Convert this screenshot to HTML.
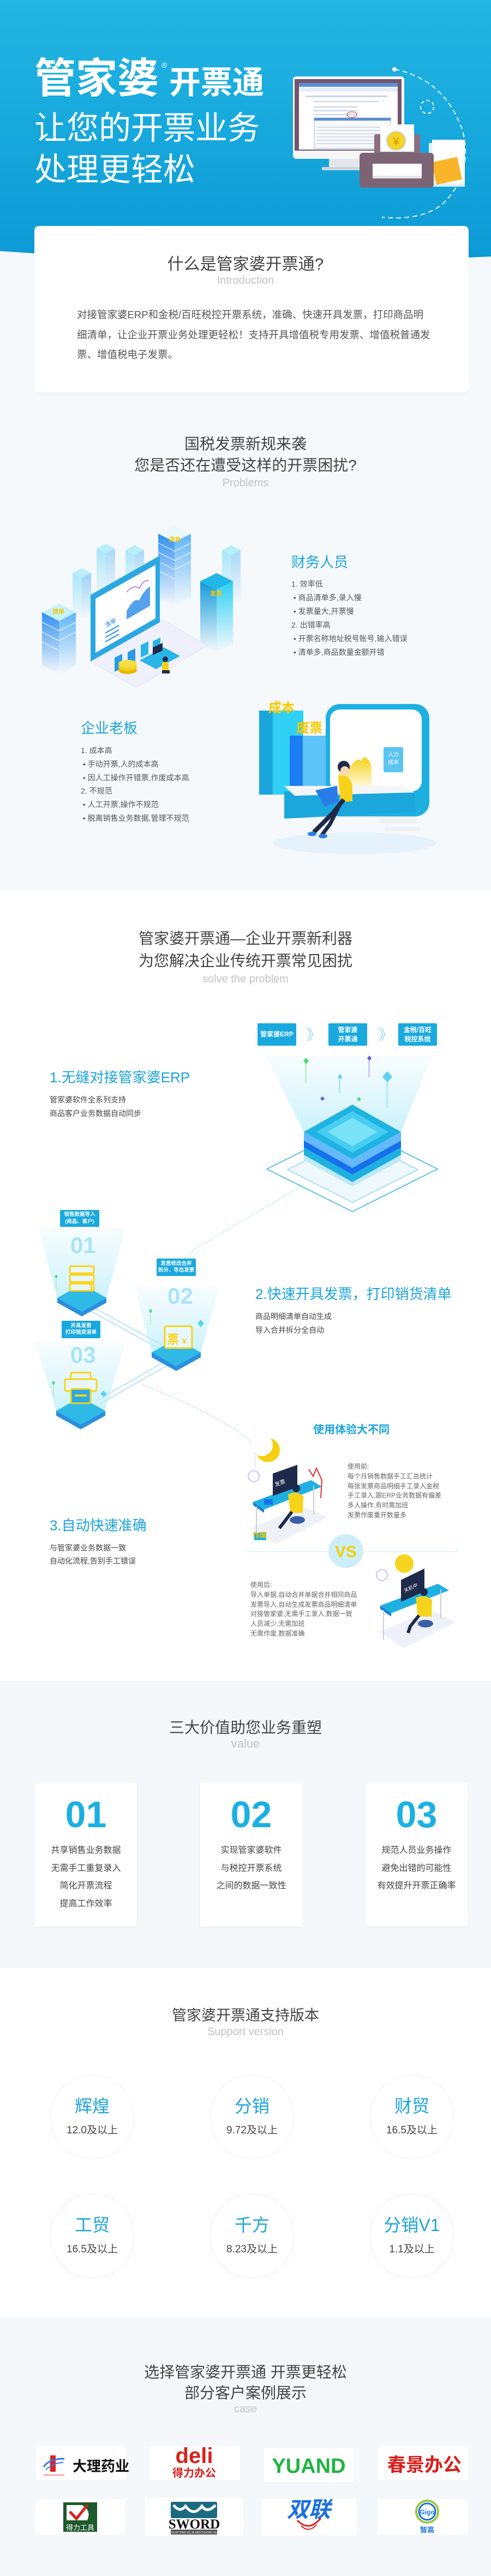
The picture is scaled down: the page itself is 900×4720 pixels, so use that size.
<!DOCTYPE html>
<html><head><meta charset="utf-8">
<style>
*{margin:0;padding:0;box-sizing:border-box}
body{width:900px;height:4720px;overflow:hidden;background:#fff;font-family:"Liberation Sans","Noto Sans CJK SC",sans-serif}
#p{position:relative;width:900px;height:4720px;overflow:hidden}
.a{position:absolute}
.t{position:absolute;white-space:nowrap;line-height:1}
.c{left:0;width:900px;text-align:center}
.h{font-size:28px;color:#444}
.en{font-size:20px;color:#c2c2c2}
.blue{color:#1ba3dc}
.box{position:absolute;background:#1aa9df;color:#fff;font-weight:bold;display:flex;align-items:center;justify-content:center;text-align:center;line-height:1.35;border-radius:2px}
.card{position:absolute;background:#fff;box-shadow:0 1px 4px rgba(0,0,0,.05)}
.circ{position:absolute;width:154px;height:154px;border-radius:50%;background:#fff;border:1px solid #f1f1f1;box-shadow:0 0 6px rgba(0,0,0,.03)}
.logo{position:absolute;background:#fff}
</style></head><body><div id="p">
<!-- backgrounds -->
<div class="a" style="left:0;top:440px;width:900px;height:1191px;background:#f5f9fc"></div>
<div class="a" style="left:0;top:3080px;width:900px;height:526px;background:#f4f8fb"></div>
<div class="a" style="left:0;top:4246px;width:900px;height:474px;background:#f4f8fb"></div>

<svg class="a" style="left:0;top:0" width="900" height="4720" viewBox="0 0 900 4720">
<defs>
<linearGradient id="hg" x1="0" y1="0" x2="0" y2="1"><stop offset="0" stop-color="#22b6e2"/><stop offset="1" stop-color="#0c9ad6"/></linearGradient>
<linearGradient id="fadeB" x1="0" y1="0" x2="0" y2="1"><stop offset="0" stop-color="#2f8ff0"/><stop offset="1" stop-color="#2f8ff0" stop-opacity="0"/></linearGradient>
<linearGradient id="fadeB2" x1="0" y1="0" x2="0" y2="1"><stop offset="0" stop-color="#5fb5f7"/><stop offset="1" stop-color="#5fb5f7" stop-opacity="0"/></linearGradient>
<linearGradient id="fadeC" x1="0" y1="0" x2="0" y2="1"><stop offset="0" stop-color="#2fd0f5"/><stop offset="1" stop-color="#2fd0f5" stop-opacity="0"/></linearGradient>
<linearGradient id="fadeC2" x1="0" y1="0" x2="0" y2="1"><stop offset="0" stop-color="#129ad6"/><stop offset="1" stop-color="#129ad6" stop-opacity="0"/></linearGradient>
<linearGradient id="fadeL" x1="0" y1="0" x2="0" y2="1"><stop offset="0" stop-color="#a8e6f8"/><stop offset="1" stop-color="#a8e6f8" stop-opacity="0"/></linearGradient>
<linearGradient id="beam" x1="0" y1="0" x2="0" y2="1"><stop offset="0" stop-color="#c9f0fb" stop-opacity="0.15"/><stop offset="1" stop-color="#bdeefa" stop-opacity="0.8"/></linearGradient>
<linearGradient id="yel" x1="0" y1="0" x2="0" y2="1"><stop offset="0" stop-color="#f6d21a"/><stop offset="1" stop-color="#f6d21a" stop-opacity="0.1"/></linearGradient>
</defs>

<!-- HEADER -->
<path d="M0 0H900V470Q450 492 0 460Z" fill="url(#hg)"/>
<path d="M723 127 Q815 145 848 240 Q868 320 810 375 Q770 405 700 398" fill="none" stroke="#fff" stroke-width="2" stroke-dasharray="9 6" opacity=".9"/>
<circle cx="723" cy="127" r="4" fill="#fff"/>
<circle cx="783" cy="196" r="12" fill="none" stroke="#fff" stroke-width="2" stroke-dasharray="6 5"/>
<rect x="603" y="290" width="57" height="20" fill="#e3e6ea"/>
<rect x="590" y="306" width="84" height="6" rx="2" fill="#cfd4da"/>
<rect x="537" y="140" width="204" height="151" rx="6" fill="#f4f6f8"/>
<rect x="540" y="145" width="196" height="131" fill="#74566a"/>
<rect x="548" y="152" width="181" height="122" fill="#fff"/>
<rect x="548" y="152" width="181" height="7" fill="#5b8fd6"/>
<rect x="548" y="160" width="181" height="8" fill="#e8edf5"/>
<g fill="#c8d3e6"><rect x="560" y="175" width="150" height="3"/><rect x="575" y="185" width="120" height="2"/><rect x="575" y="195" width="80" height="2"/><rect x="575" y="202" width="80" height="2"/><rect x="575" y="209" width="80" height="2"/></g>
<rect x="576" y="216" width="140" height="56" fill="#f7f9fc" stroke="#9cb3d8"/>
<rect x="576" y="216" width="140" height="5" fill="#5b8fd6"/>
<g fill="#d4dbe8"><rect x="580" y="232" width="130" height="2"/><rect x="580" y="238" width="130" height="2"/><rect x="580" y="244" width="130" height="2"/><rect x="580" y="250" width="130" height="2"/><rect x="580" y="256" width="130" height="2"/><rect x="580" y="262" width="130" height="2"/></g>
<ellipse cx="645" cy="210" rx="9" ry="5" fill="none" stroke="#d33"/>
<rect x="786" y="262" width="66" height="80" fill="#fff" opacity=".85"/>
<rect x="792" y="256" width="60" height="80" fill="#fff"/>
<rect x="795" y="292" width="48" height="42" fill="#f8b52a" transform="rotate(-12 819 313)"/>
<rect x="686" y="246" width="84" height="38" rx="3" fill="#8b7080"/>
<rect x="697" y="228" width="62" height="50" fill="#fff"/>
<circle cx="726" cy="258" r="17" fill="#f5d327" stroke="#cfcfcf" stroke-width="2"/>
<text x="726" y="266" font-size="20" fill="#c99a00" text-anchor="middle" font-family="Liberation Sans">¥</text>
<rect x="659" y="280" width="136" height="64" rx="6" fill="#7d6475"/>
<rect x="683" y="300" width="90" height="27" fill="#fff"/>
<rect x="683" y="322" width="90" height="5" fill="#e4e4e4"/>

<!-- PROBLEM LEFT ILLUSTRATION -->
<g>
<polygon points="150,1041 167,1050 150,1059 133,1050" fill="#b8effa"/><polygon points="133,1050 150,1059 150,1135 133,1126" fill="url(#fadeL)"/><polygon points="150,1059 167,1050 167,1126 150,1135" fill="url(#fadeB2)" opacity=".6"/>
<polygon points="194,996 211,1005 194,1014 177,1005" fill="#b8effa"/><polygon points="177,1005 194,1014 194,1100 177,1091" fill="url(#fadeL)"/><polygon points="194,1014 211,1005 211,1091 194,1100" fill="url(#fadeB2)" opacity=".5"/>
<polygon points="247,999 264,1008 247,1017 230,1008" fill="#b8effa"/><polygon points="230,1008 247,1017 247,1090 230,1081" fill="url(#fadeL)"/><polygon points="247,1017 264,1008 264,1081 247,1090" fill="url(#fadeB2)" opacity=".5"/>
<polygon points="424,999 441,1008 424,1017 407,1008" fill="#b8effa"/><polygon points="407,1008 424,1017 424,1110 407,1101" fill="url(#fadeL)"/><polygon points="424,1017 441,1008 441,1101 424,1110" fill="url(#fadeB2)" opacity=".5"/>
<polygon points="108,1106 139,1122 108,1138 77,1122" fill="#c6f1fb"/><polygon points="77,1122 108,1138 108,1235 77,1219" fill="url(#fadeB)"/><polygon points="108,1138 139,1122 139,1219 108,1235" fill="url(#fadeB2)"/>
<g stroke="#fff" stroke-width="1.5" opacity=".7"><line x1="77" y1="1140" x2="108" y2="1156"/><line x1="77" y1="1158" x2="108" y2="1174"/><line x1="77" y1="1176" x2="108" y2="1192"/><line x1="108" y1="1156" x2="139" y2="1140"/><line x1="108" y1="1174" x2="139" y2="1158"/></g>
<polygon points="320,963 350,978 320,993 290,978" fill="#eaf8ff"/><polygon points="290,978 320,993 320,1110 290,1095" fill="url(#fadeB)"/><polygon points="320,993 350,978 350,1095 320,1110" fill="url(#fadeB2)"/>
<g stroke="#fff" stroke-width="1.5" opacity=".7"><line x1="290" y1="995" x2="320" y2="1010"/><line x1="290" y1="1012" x2="320" y2="1027"/><line x1="290" y1="1029" x2="320" y2="1044"/><line x1="290" y1="1046" x2="320" y2="1061"/><line x1="320" y1="1010" x2="350" y2="995"/><line x1="320" y1="1027" x2="350" y2="1012"/><line x1="320" y1="1044" x2="350" y2="1029"/></g>
<polygon points="397,1050 427,1065 397,1080 367,1065" fill="#22b7e6"/><polygon points="367,1065 397,1080 397,1195 367,1180" fill="url(#fadeC2)"/><polygon points="397,1080 427,1065 427,1180 397,1195" fill="url(#fadeC)"/>
<polygon points="166,1212 300,1136 380,1183 250,1260" fill="#eef1fb" stroke="#dfe3f6"/>
<polygon points="166,1090 293,1018 293,1140 166,1212" fill="#2ba8e2"/>
<polygon points="175,1097 285,1035 285,1133 175,1196" fill="#fff"/>
<path d="M232 1120 Q245 1095 255 1100 Q265 1080 275 1075 L275 1110 L232 1135Z" fill="#2a8ae8" opacity=".8"/>
<path d="M232 1085 Q245 1070 255 1078 Q265 1060 272 1065" fill="none" stroke="#a070e0" stroke-width="1.5"/>
<g stroke="#2a8ae8" stroke-width="2"><line x1="193" y1="1160" x2="218" y2="1146"/><line x1="193" y1="1168" x2="218" y2="1154"/><line x1="193" y1="1176" x2="218" y2="1162"/></g>
<text x="195" y="1150" font-size="11" fill="#2a8ae8" transform="rotate(-30 195 1150)">清单</text>
<polygon points="210,1205 224,1198 224,1224 210,1231" fill="#2a9ae8"/><polygon points="234,1195 248,1188 248,1214 234,1221" fill="#2a9ae8"/><polygon points="258,1182 272,1175 272,1198 258,1205" fill="#2ab5e8"/><polygon points="280,1175 294,1168 294,1188 280,1195" fill="#2ab5e8"/>
<polygon points="256,1210 300,1186 330,1202 286,1226" fill="#2ab5e8"/>
<rect x="280" y="1187" width="18" height="14" fill="#1e2a4a" transform="skewY(-25) translate(0 130)"/>
<circle cx="303" cy="1208" r="5" fill="#1e2a4a"/><rect x="297" y="1213" width="12" height="16" rx="3" fill="#f6d21a"/><rect x="297" y="1228" width="14" height="6" fill="#1e2a4a"/>
<ellipse cx="234" cy="1228" rx="17" ry="7" fill="#e8b800"/><ellipse cx="234" cy="1222" rx="17" ry="7" fill="#f6d21a"/><ellipse cx="234" cy="1216" rx="17" ry="7" fill="#f9dd44"/>
<text x="96" y="1124" font-size="11" font-weight="bold" fill="#f6c800">错单</text>
<text x="309" y="992" font-size="11" font-weight="bold" fill="#f6c800">清单</text>
<text x="385" y="1091" font-size="11" font-weight="bold" fill="#f6c800">发票</text>
</g>

<!-- PROBLEM RIGHT ILLUSTRATION -->
<g>
<ellipse cx="650" cy="1545" rx="150" ry="20" fill="#e6f2fb"/>
<polygon points="475,1302 530,1302 530,1456 475,1456" fill="#1aa6dc"/>
<polygon points="500,1302 556,1302 556,1456 500,1456" fill="#30d0f5"/>
<polygon points="531,1348 560,1348 560,1456 531,1456" fill="#1b7ef0"/>
<polygon points="555,1348 598,1348 598,1456 555,1456" fill="#5ec3f7"/>
<rect x="597" y="1290" width="190" height="206" rx="26" fill="#1fb0e2"/>
<rect x="605" y="1300" width="168" height="150" rx="18" fill="#fff"/>
<path d="M620 1420 Q632 1395 642 1405 Q655 1385 662 1395 Q668 1378 680 1400 L682 1445 L620 1445Z" fill="url(#yel)"/>
<rect x="703" y="1411" width="36" height="46" rx="3" fill="#5cc4f0" transform="translate(0 -42)"/>
<text x="711" y="1386" font-size="10" fill="#fff">人力</text><text x="711" y="1400" font-size="10" fill="#fff">成本</text>
<polygon points="521,1450 760,1450 763,1488 521,1500" fill="#1ca7dc"/>
<polygon points="521,1440 735,1440 760,1452 540,1458" fill="#f2f6fb"/>
<rect x="695" y="1500" width="70" height="9" rx="3" fill="#eef2f7"/><rect x="705" y="1515" width="65" height="8" rx="3" fill="#eef2f7"/>
<circle cx="630" cy="1405" r="11" fill="#1e2a4a"/><circle cx="632" cy="1412" r="8" fill="#f7d7b8"/>
<path d="M620 1422 Q640 1416 646 1440 L646 1468 L624 1470Z" fill="#f6d21a"/>
<polygon points="578,1448 618,1440 620,1470 595,1478" fill="#2a7de8"/>
<path d="M630 1465 L610 1490 L575 1525" stroke="#1e2a4a" stroke-width="8" fill="none"/>
<path d="M625 1470 L605 1510 L590 1530" stroke="#1e2a4a" stroke-width="7" fill="none"/>
<ellipse cx="572" cy="1528" rx="8" ry="4" fill="#2a7de8"/><ellipse cx="592" cy="1532" rx="8" ry="4" fill="#2a7de8"/>
<text x="492" y="1305" font-size="24" font-weight="bold" fill="#f6c800">成本</text>
<text x="543" y="1342" font-size="24" font-weight="bold" fill="#f6c800">废票</text>
</g>

<!-- SOLVE: stack -->
<g>
<polygon points="488,1935 792,1935 735,2074 557,2074" fill="url(#beam)"/>
<polygon points="646,2064 802,2142 646,2220 489,2142" fill="#fff" stroke="#2bb3e0" stroke-width="1.5" stroke-linejoin="round"/>
<polygon points="646,2083 766,2143 646,2203 527,2143" fill="#eef9fd" stroke="#8fd6f0" stroke-width="1.5"/>
<polygon points="557,2112 646,2160 735,2112 735,2126 646,2174 557,2126" fill="#bfe9f7"/>
<polygon points="557,2100 646,2150 735,2100 735,2116 646,2166 557,2116" fill="#1fb0df"/>
<polygon points="557,2088 646,2138 735,2088 735,2102 646,2152 557,2102" fill="#1570ec"/>
<polygon points="557,2074 646,2124 735,2074 735,2090 646,2140 557,2090" fill="#64b9fb"/>
<polygon points="646,2024 735,2074 646,2124 557,2074" fill="#1fb3e1"/>
<polygon points="646,2036 712,2074 646,2112 580,2074" fill="#47cdf0"/>
<polygon points="646,2048 692,2074 646,2100 600,2074" fill="#7ae3f7"/>
<g><rect x="559" y="1950" width="3" height="35" fill="#9ee8b0" opacity=".6"/><polygon points="561,1938 566,1944 561,1950 556,1944" fill="#4fd87a"/>
<rect x="675" y="1944" width="3" height="30" fill="#b3a8f0" opacity=".6"/><polygon points="677,1934 681,1939 677,1944 673,1939" fill="#6a5ae0"/>
<rect x="621" y="1978" width="3" height="25" fill="#a8e6f8"/><polygon points="623,1968 627,1973 623,1978 619,1973" fill="#5dd3f2"/>
<rect x="707" y="1980" width="5" height="50" fill="#bdeefa"/><polygon points="710,1963 719,1973 710,1983 701,1973" fill="#5dd3f2"/>
<polygon points="591,2009 595,2013 591,2017 587,2013" fill="#6a5ae0"/><polygon points="658,2010 662,2014 658,2018 654,2014" fill="#4fd87a"/></g>
</g>
<path d="M548 2176 L350 2292 L344 2312" fill="none" stroke="#8fd6f0" stroke-width="1.5" stroke-dasharray="2 3"/>
<path d="M261 2537 Q440 2610 466 2650 L468 2690" fill="none" stroke="#8fd6f0" stroke-width="1.5" stroke-dasharray="2 3"/>
<!-- flow chevrons -->
<text x="562" y="1905" font-size="26" fill="#8fd6f0">》</text>
<text x="694" y="1905" font-size="26" fill="#8fd6f0">》</text>

<!-- platforms -->
<g>
<polygon points="70,2250 230,2250 195,2378 105,2378" fill="url(#beam)"/>
<polygon points="247,2358 402,2358 368,2478 278,2478" fill="url(#beam)"/>
<polygon points="65,2460 230,2460 192,2585 103,2585" fill="url(#beam)"/>
<g stroke="#c6e9f6" stroke-width="2.5"><line x1="172" y1="2396" x2="300" y2="2466"/><line x1="166" y1="2402" x2="294" y2="2472"/><line x1="300" y1="2496" x2="178" y2="2566"/><line x1="306" y1="2502" x2="184" y2="2572"/></g>
<polygon points="105,2378 150,2403 195,2378 195,2387 150,2412 105,2387" fill="#2b8fe0"/><polygon points="150,2353 195,2378 150,2403 105,2378" fill="#2fb9e6"/>
<polygon points="278,2478 323,2503 368,2478 368,2487 323,2512 278,2487" fill="#2b8fe0"/><polygon points="323,2453 368,2478 323,2503 278,2478" fill="#2fb9e6"/>
<polygon points="103,2585 148,2610 193,2585 193,2594 148,2619 103,2594" fill="#2b8fe0"/><polygon points="148,2560 193,2585 148,2610 103,2585" fill="#2fb9e6"/>
<rect x="128" y="2320" width="44" height="13" rx="2" fill="#e8f6fd" stroke="#f7d417" stroke-width="3"/>
<rect x="128" y="2336" width="44" height="13" rx="2" fill="#e8f6fd" stroke="#f7d417" stroke-width="3"/>
<rect x="128" y="2352" width="44" height="13" rx="2" fill="#e8f6fd" stroke="#f7d417" stroke-width="3"/>
<path d="M160 2350 Q172 2355 166 2366" stroke="#f7d417" stroke-width="3" fill="none"/>
<rect x="302" y="2430" width="50" height="40" rx="3" fill="#e8f6fd" stroke="#f7d417" stroke-width="3"/>
<text x="306" y="2462" font-size="22" font-weight="bold" fill="#f7d417">票</text><text x="334" y="2462" font-size="14" font-weight="bold" fill="#f7d417">¥</text>
<rect x="130" y="2515" width="36" height="14" rx="2" fill="#e8f6fd" stroke="#f7d417" stroke-width="3"/>
<rect x="119" y="2527" width="58" height="22" rx="3" fill="#e8f6fd" stroke="#f7d417" stroke-width="3"/>
<rect x="130" y="2545" width="36" height="26" rx="2" fill="#2aa8e8" stroke="#f7d417" stroke-width="3"/>
<rect x="137" y="2555" width="22" height="4" fill="#f7d417"/>
<g><polygon points="103,2335 106,2339 103,2343 100,2339" fill="#4fd87a"/><rect x="102" y="2343" width="2" height="20" fill="#bdeecb"/>
<polygon points="276,2398 279,2402 276,2406 273,2402" fill="#4fd87a"/><rect x="275" y="2406" width="2" height="22" fill="#bdeecb"/>
<polygon points="368,2418 374,2425 368,2432 362,2425" fill="#5dd3f2"/>
<polygon points="98,2530 101,2534 98,2538 95,2534" fill="#4fd87a"/><rect x="97" y="2538" width="2" height="22" fill="#bdeecb"/>
<polygon points="190,2548 196,2554 190,2560 184,2554" fill="#5dd3f2"/></g>
</g>

<!-- moon -->
<circle cx="491" cy="2657" r="22" fill="#f5cf10"/><circle cx="480" cy="2648" r="20" fill="#fff"/>
<!-- before illustration -->
<g>
<polygon points="460,2800 555,2760 600,2780 505,2830" fill="#e8ebf7" opacity=".7"/>
<polygon points="464,2752 570,2712 590,2724 484,2766" fill="#1fb0e2"/>
<polygon points="464,2752 484,2766 484,2772 464,2758" fill="#1580d0"/>
<line x1="470" y1="2760" x2="470" y2="2815" stroke="#c9cfe0" stroke-width="2"/><line x1="575" y1="2722" x2="575" y2="2775" stroke="#c9cfe0" stroke-width="2"/>
<polygon points="500,2700 545,2684 545,2725 500,2741" fill="#1e2a4a"/>
<text x="505" y="2724" font-size="10" fill="#fff" transform="rotate(-20 505 2724)">发票</text>
<rect x="484" y="2747" width="16" height="10" fill="#1570ec"/>
<circle cx="543" cy="2727" r="7" fill="#1e2a4a"/>
<path d="M528 2738 Q545 2730 556 2742 L555 2772 L532 2772Z" fill="#f6d21a"/>
<ellipse cx="545" cy="2785" rx="14" ry="7" fill="#3a5fa8"/>
<path d="M535 2770 L520 2790 L512 2800" stroke="#1e2a4a" stroke-width="6" fill="none"/>
<circle cx="465" cy="2705" r="10" fill="none" stroke="#c4c8f0" stroke-width="2"/>
<path d="M566 2692 L574 2705 L580 2690 L590 2712 L588 2745" stroke="#e03030" stroke-width="2" fill="none"/>
<rect x="466" y="2808" width="22" height="14" fill="#1fb0e2"/>
<text x="463" y="2817" font-size="13" font-weight="bold" fill="#f6c800">作废</text>
</g>
<!-- VS -->
<line x1="451" y1="2843" x2="841" y2="2843" stroke="#e6f5fb" stroke-width="2"/>
<ellipse cx="634" cy="2842" rx="32" ry="31" fill="#cdeef9"/>
<text x="634" y="2853" font-size="30" font-weight="bold" fill="#f5d000" text-anchor="middle">VS</text>
<circle cx="741" cy="2865" r="17" fill="#f7d51f"/>
<!-- after illustration -->
<g>
<polygon points="695,2990 790,2950 835,2972 740,3020" fill="#e8ebf7" opacity=".7"/>
<polygon points="697,2942 803,2902 823,2914 717,2956" fill="#1fb0e2"/>
<polygon points="697,2942 717,2956 717,2962 697,2948" fill="#1580d0"/>
<line x1="703" y1="2950" x2="703" y2="3005" stroke="#c9cfe0" stroke-width="2"/><line x1="808" y1="2912" x2="808" y2="2965" stroke="#c9cfe0" stroke-width="2"/>
<polygon points="735,2895 778,2874 778,2916 735,2935" fill="#1e2a4a"/>
<text x="742" y="2918" font-size="9" fill="#fff" transform="rotate(-25 742 2918)">关机中</text>
<circle cx="777" cy="2917" r="7" fill="#1e2a4a"/>
<path d="M762 2928 Q779 2920 792 2932 L791 2962 L766 2962Z" fill="#f6d21a"/>
<ellipse cx="780" cy="2975" rx="14" ry="7" fill="#3a5fa8"/>
<path d="M768 2960 L752 2980 L748 2992" stroke="#1e2a4a" stroke-width="6" fill="none"/>
<circle cx="700" cy="2886" r="10" fill="none" stroke="#c4c8f0" stroke-width="2"/>
</g>
</svg>

<!-- HEADER TEXT -->
<div class="t" style="left:63px;top:107px;font-size:76px;font-weight:bold;color:#fff">管家婆</div>
<div class="t" style="left:296px;top:112px;font-size:14px;color:#fff">®</div>
<div class="t" style="left:310px;top:123px;font-size:58px;font-weight:bold;color:#fff">开票通</div>
<div class="t" style="left:63px;top:206px;font-size:59px;color:#fff">让您的开票业务</div>
<div class="t" style="left:63px;top:282px;font-size:59px;color:#fff">处理更轻松</div>

<!-- INTRO CARD -->
<div class="a" style="left:63px;top:414px;width:796px;height:305px;background:#fff;border-radius:8px;box-shadow:0 2px 8px rgba(0,0,0,.04)"></div>
<div class="t c" style="top:470px;font-size:30px;color:#444">什么是管家婆开票通?</div>
<div class="t c en" style="top:504px">Introduction</div>
<div class="a" style="left:141px;top:559px;font-size:18.5px;line-height:36.5px;color:#555;white-space:nowrap">对接管家婆ERP和金税/百旺税控开票系统，准确、快速开具发票，打印商品明<br>细清单，让企业开票业务处理更轻松！支持开具增值税专用发票、增值税普通发<br>票、增值税电子发票。</div>

<!-- PROBLEMS -->
<div class="t c h" style="top:800px">国税发票新规来袭</div>
<div class="t c h" style="top:839px">您是否还在遭受这样的开票困扰?</div>
<div class="t c en" style="top:875px">Problems</div>
<div class="t blue" style="left:534px;top:1017px;font-size:26px">财务人员</div>
<div class="a" style="left:534px;top:1058px;font-size:14px;line-height:25px;color:#555;white-space:nowrap">1. 效率低<br>&nbsp;• 商品清单多,录入慢<br>&nbsp;• 发票量大,开票慢<br>2. 出错率高<br>&nbsp;• 开票名称地址税号账号,输入错误<br>&nbsp;• 清单多,商品数量金额开错</div>
<div class="t blue" style="left:148px;top:1321px;font-size:26px">企业老板</div>
<div class="a" style="left:148px;top:1363px;font-size:14px;line-height:24.8px;color:#555;white-space:nowrap">1. 成本高<br>&nbsp;• 手动开票,人的成本高<br>&nbsp;• 因人工操作开错票,作废成本高<br>2. 不规范<br>&nbsp;• 人工开票,操作不规范<br>&nbsp;• 脱离销售业务数据,管理不规范</div>

<!-- SOLVE -->
<div class="t c h" style="top:1706px">管家婆开票通—企业开票新利器</div>
<div class="t c h" style="top:1747px">为您解决企业传统开票常见困扰</div>
<div class="t c en" style="top:1784px">solve the problem</div>
<div class="box" style="left:472px;top:1875px;width:71px;height:41px;font-size:12px">管家婆ERP</div>
<div class="box" style="left:602px;top:1875px;width:71px;height:41px;font-size:12px">管家婆<br>开票通</div>
<div class="box" style="left:730px;top:1875px;width:71px;height:41px;font-size:12px">金税/百旺<br>税控系统</div>
<div class="t blue" style="left:91px;top:1961px;font-size:26px">1.无缝对接管家婆ERP</div>
<div class="a" style="left:91px;top:2003px;font-size:14px;line-height:25px;color:#444;white-space:nowrap">管家婆软件全系列支持<br>商品客户业务数据自动同步</div>
<div class="box" style="left:110px;top:2217px;width:72px;height:31px;font-size:9.5px;line-height:1.3">销售数据导入<br>(商品、客户)</div>
<div class="box" style="left:287px;top:2306px;width:72px;height:32px;font-size:9.5px;line-height:1.3">发票修改合并<br>拆分、导出发票</div>
<div class="box" style="left:113px;top:2420px;width:71px;height:32px;font-size:9.5px;line-height:1.3">开具发票<br>打印销货清单</div>
<div class="t" style="left:129px;top:2261px;font-size:42px;font-weight:bold;color:#a9e4f5;font-family:'Liberation Sans Narrow','Liberation Sans',sans-serif">01</div>
<div class="t" style="left:307px;top:2354px;font-size:42px;font-weight:bold;color:#a9e4f5;font-family:'Liberation Sans Narrow','Liberation Sans',sans-serif">02</div>
<div class="t" style="left:129px;top:2462px;font-size:42px;font-weight:bold;color:#a9e4f5;font-family:'Liberation Sans Narrow','Liberation Sans',sans-serif">03</div>
<div class="t blue" style="left:468px;top:2358px;font-size:26px">2.快速开具发票，打印销货清单</div>
<div class="a" style="left:468px;top:2400px;font-size:14px;line-height:25px;color:#444;white-space:nowrap">商品明细清单自动生成<br>导入合并拆分全自动</div>
<div class="t blue" style="left:574px;top:2610px;font-size:20px;font-weight:bold">使用体验大不同</div>
<div class="a" style="left:637px;top:2679px;font-size:12px;line-height:17.8px;color:#666;white-space:nowrap">使用前:<br>每个月销售数据手工汇总统计<br>每张发票商品明细手工录入金税<br>手工录入,跟ERP业务数据有偏差<br>多人操作,有时需加班<br>发票作废重开数量多</div>
<div class="t blue" style="left:91px;top:2782px;font-size:26px">3.自动快速准确</div>
<div class="a" style="left:91px;top:2824px;font-size:14px;line-height:24px;color:#444;white-space:nowrap">与管家婆业务数据一致<br>自动化流程,告别手工错误</div>
<div class="a" style="left:459px;top:2896px;font-size:12px;line-height:17.8px;color:#666;white-space:nowrap">使用后:<br>导入单据,自动合并单据合并相同商品<br>发票导入,自动生成发票商品明细清单<br>对接管家婆,无需手工录入,数据一致<br>人员减少,无需加班<br>无需作废,数据准确</div>

<!-- VALUE -->
<div class="t c h" style="top:3152px">三大价值助您业务重塑</div>
<div class="t c en" style="top:3184px;font-size:22px">value</div>
<div class="card" style="left:64px;top:3266px;width:187px;height:264px"></div>
<div class="card" style="left:367px;top:3266px;width:187px;height:264px"></div>
<div class="card" style="left:670px;top:3266px;width:187px;height:264px"></div>
<div class="t" style="left:64px;width:187px;text-align:center;top:3291px;font-size:68px;font-weight:bold;color:#1bb0e2">01</div>
<div class="t" style="left:367px;width:187px;text-align:center;top:3291px;font-size:68px;font-weight:bold;color:#1bb0e2">02</div>
<div class="t" style="left:670px;width:187px;text-align:center;top:3291px;font-size:68px;font-weight:bold;color:#1bb0e2">03</div>
<div class="a" style="left:64px;width:187px;text-align:center;top:3375px;font-size:16px;line-height:32.7px;color:#444">共享销售业务数据<br>无需手工重复录入<br>简化开票流程<br>提高工作效率</div>
<div class="a" style="left:367px;width:187px;text-align:center;top:3375px;font-size:16px;line-height:32.7px;color:#444">实现管家婆软件<br>与税控开票系统<br>之间的数据一致性</div>
<div class="a" style="left:670px;width:187px;text-align:center;top:3375px;font-size:16px;line-height:32.7px;color:#444">规范人员业务操作<br>避免出错的可能性<br>有效提升开票正确率</div>

<!-- SUPPORT -->
<div class="t c" style="top:3680px;font-size:27px;color:#444">管家婆开票通支持版本</div>
<div class="t c en" style="top:3713px">Support version</div>
<div class="circ" style="left:92px;top:3802px"></div>
<div class="circ" style="left:385px;top:3802px"></div>
<div class="circ" style="left:678px;top:3802px"></div>
<div class="circ" style="left:92px;top:4020px"></div>
<div class="circ" style="left:385px;top:4020px"></div>
<div class="circ" style="left:678px;top:4020px"></div>
<div class="t blue" style="left:92px;width:154px;text-align:center;top:3843px;font-size:32px">辉煌</div>
<div class="t blue" style="left:385px;width:154px;text-align:center;top:3843px;font-size:32px">分销</div>
<div class="t blue" style="left:678px;width:154px;text-align:center;top:3843px;font-size:32px">财贸</div>
<div class="t" style="left:92px;width:154px;text-align:center;top:3894px;font-size:19px;color:#444">12.0及以上</div>
<div class="t" style="left:385px;width:154px;text-align:center;top:3894px;font-size:19px;color:#444">9.72及以上</div>
<div class="t" style="left:678px;width:154px;text-align:center;top:3894px;font-size:19px;color:#444">16.5及以上</div>
<div class="t blue" style="left:92px;width:154px;text-align:center;top:4061px;font-size:32px">工贸</div>
<div class="t blue" style="left:385px;width:154px;text-align:center;top:4061px;font-size:32px">千方</div>
<div class="t blue" style="left:678px;width:154px;text-align:center;top:4061px;font-size:32px">分销V1</div>
<div class="t" style="left:92px;width:154px;text-align:center;top:4112px;font-size:19px;color:#444">16.5及以上</div>
<div class="t" style="left:385px;width:154px;text-align:center;top:4112px;font-size:19px;color:#444">8.23及以上</div>
<div class="t" style="left:678px;width:154px;text-align:center;top:4112px;font-size:19px;color:#444">1.1及以上</div>

<!-- CASES -->
<div class="t c h" style="top:4333px">选择管家婆开票通 开票更轻松</div>
<div class="t c h" style="top:4371px">部分客户案例展示</div>
<div class="t c en" style="top:4404px">case</div>
<div class="logo" style="left:66px;top:4482px;width:165px;height:62px"></div>
<div class="logo" style="left:274px;top:4482px;width:165px;height:62px"></div>
<div class="logo" style="left:484px;top:4485px;width:164px;height:63px"></div>
<div class="logo" style="left:693px;top:4482px;width:165px;height:62px"></div>
<div class="logo" style="left:65px;top:4580px;width:164px;height:64px"></div>
<div class="logo" style="left:266px;top:4577px;width:180px;height:70px"></div>
<div class="logo" style="left:479px;top:4578px;width:174px;height:68px"></div>
<div class="logo" style="left:693px;top:4580px;width:165px;height:64px"></div>
<svg class="a" style="left:0;top:4470px" width="900" height="190" viewBox="0 4470 900 190">
<rect x="92" y="4499" width="10" height="30" fill="#e02020"/>
<path d="M80 4520 Q90 4505 118 4505" stroke="#2a7de8" stroke-width="3" fill="none"/><path d="M84 4525 Q100 4512 116 4512" stroke="#2a7de8" stroke-width="2" fill="none"/>
<line x1="80" y1="4535" x2="118" y2="4535" stroke="#e02020"/>
<text x="133" y="4528" font-size="26" font-weight="bold" fill="#111">大理药业</text>
<text x="356" y="4513" font-size="40" font-weight="bold" fill="#d8201c" text-anchor="middle">deli</text>
<text x="356" y="4538" font-size="20" font-weight="bold" fill="#d8201c" text-anchor="middle">得力办公</text>
<text x="566" y="4531" font-size="38" font-weight="bold" fill="#1db540" text-anchor="middle">YUAND</text>
<text x="778" y="4528" font-size="34" font-weight="bold" fill="#d8201c" text-anchor="middle">春景办公</text>
<rect x="116" y="4585" width="62" height="54" fill="#1d5a2c"/>
<path d="M122 4590 H150 Q168 4600 160 4618 L122 4618Z" fill="#fff"/>
<path d="M128 4602 L140 4615 L160 4590" stroke="#d8201c" stroke-width="5" fill="none"/>
<text x="147" y="4636" font-size="13" fill="#fff" text-anchor="middle">得力工具</text>
<rect x="313" y="4584" width="85" height="30" rx="3" fill="#1b6a80"/>
<path d="M318 4590 Q330 4605 340 4592 Q355 4612 370 4592 Q380 4606 395 4590" stroke="#fff" stroke-width="5" fill="none"/>
<text x="356" y="4633" font-size="25" font-weight="bold" fill="#111" text-anchor="middle" font-family="Liberation Serif">SWORD</text>
<rect x="313" y="4635" width="85" height="9" fill="#555"/>
<text x="356" y="4642" font-size="6" fill="#fff" text-anchor="middle" font-family="Liberation Serif">ELECTRICAL &amp; MECHANICAL</text>
<text x="566" y="4612" font-size="40" font-weight="bold" font-style="italic" fill="#1a6fe0" text-anchor="middle">双联</text>
<path d="M545 4618 Q566 4640 588 4614" stroke="#e02020" stroke-width="3" fill="none"/><path d="M552 4628 Q566 4642 580 4626" stroke="#e02020" stroke-width="2" fill="none"/>
<circle cx="783" cy="4602" r="20" fill="none" stroke="#9cc83a" stroke-width="4"/>
<circle cx="783" cy="4602" r="15" fill="#fff" stroke="#1a6fe0" stroke-width="3"/>
<text x="783" y="4607" font-size="12" font-weight="bold" fill="#1a6fe0" text-anchor="middle">Gigo</text>
<text x="783" y="4640" font-size="13" font-weight="bold" fill="#1a6fe0" text-anchor="middle">智高</text>
</svg>
</div></body></html>
